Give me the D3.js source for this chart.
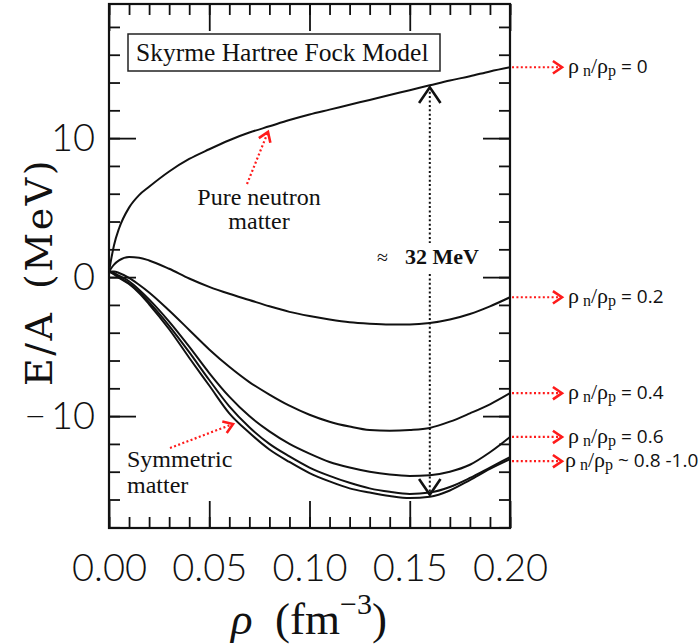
<!DOCTYPE html>
<html><head><meta charset="utf-8">
<script src="https://cdn.jsdelivr.net/npm/d3@7"></script>
<style>html,body{margin:0;padding:0;background:#fff;}svg{display:block;}</style>
</head><body>
<svg id="chart" width="700" height="644"></svg>
<script>
// ---- data ----
const rho = [0,0.0025,0.005,0.01,0.015,0.02,0.03,0.04,0.05,0.06,0.07,0.08,0.09,0.10,0.11,0.12,0.13,0.14,0.15,0.16,0.17,0.18,0.19,0.20];
const ratio00 = [0.4,2.3,3.5,5.0,5.9,6.5,7.6,8.5,9.2,9.85,10.4,10.85,11.3,11.7,12.05,12.4,12.75,13.1,13.45,13.8,14.15,14.45,14.8,15.1];
const ratio02 = [0.4,0.9,1.2,1.45,1.4,1.2,0.6,-0.1,-0.7,-1.2,-1.65,-2.1,-2.5,-2.8,-3.05,-3.25,-3.35,-3.4,-3.4,-3.3,-3.05,-2.65,-2.1,-1.45];
const ratio04 = [0.4,0.4,0.3,-0.05,-0.55,-1.1,-2.4,-3.8,-5.2,-6.45,-7.55,-8.45,-9.25,-9.9,-10.4,-10.75,-11.0,-11.05,-11.0,-10.85,-10.4,-9.8,-9.15,-8.35];
const ratio06 = [0.4,0.3,0.1,-0.3,-0.9,-1.6,-3.2,-5.0,-6.9,-8.6,-10.0,-11.1,-12.0,-12.7,-13.3,-13.7,-14.0,-14.2,-14.3,-14.25,-14.0,-13.5,-12.6,-11.5];
const ratio08 = [0.4,0.25,0.0,-0.45,-1.05,-1.8,-3.5,-5.4,-7.4,-9.3,-10.8,-12.0,-12.9,-13.7,-14.3,-14.8,-15.2,-15.45,-15.6,-15.5,-15.1,-14.45,-13.7,-12.95];
const ratio10 = [0.4,0.2,-0.05,-0.5,-1.15,-1.95,-3.75,-5.8,-7.8,-9.8,-11.2,-12.4,-13.3,-14.1,-14.7,-15.2,-15.5,-15.75,-15.9,-15.8,-15.35,-14.6,-13.8,-13.1];
const seriesList = [ratio00, ratio02, ratio04, ratio06, ratio08, ratio10];
const labelRatios = [" = 0", " = 0.2", " = 0.4", " = 0.6", " ~ 0.8 -1.0"];
const xTickLabels = [0, 0.05, 0.10, 0.15, 0.20];
const yTickLabels = [-10, 0, 10];
const symGap = 0.16; // rho where the 32 MeV arrow is drawn

// ---- layout ----
const svg = d3.select("#chart");
const x = d3.scaleLinear().domain([0, 0.2]).range([109, 510]);
const y = d3.scaleLinear().domain([-18.05, 19.65]).range([528, 4]);
const X0 = x.range()[0], X1 = x.range()[1], Y0 = y.range()[1], Y1 = y.range()[0];
const serif = "'Liberation Serif','Times New Roman',serif";
const tickFont = "Lato,'Liberation Sans',Arial,sans-serif";

function tickLayer(axisGen, tr){
  const g = svg.append("g").attr("transform", tr).call(axisGen);
  g.select(".domain").remove();
  g.selectAll(".tick line").attr("stroke","#111").attr("stroke-width",1.8);
  return g;
}
const xMinor = d3.range(0, 0.2001, 0.01);
const yMinor = d3.range(-18, 19, 2);
const MAJ = 27, MIN = 11;
tickLayer(d3.axisBottom(x).tickValues(xMinor).tickSize(-MIN).tickFormat(""), `translate(0,${Y1})`);
tickLayer(d3.axisTop(x).tickValues(xMinor).tickSize(-MIN).tickFormat(""), `translate(0,${Y0})`);
tickLayer(d3.axisBottom(x).tickValues(xTickLabels).tickSize(-MAJ).tickFormat(""), `translate(0,${Y1})`);
tickLayer(d3.axisTop(x).tickValues(xTickLabels).tickSize(-MAJ).tickFormat(""), `translate(0,${Y0})`);
tickLayer(d3.axisLeft(y).tickValues(yMinor).tickSize(-MIN).tickFormat(""), `translate(${X0},0)`);
tickLayer(d3.axisRight(y).tickValues(yMinor).tickSize(-MIN).tickFormat(""), `translate(${X1},0)`);
tickLayer(d3.axisLeft(y).tickValues(yTickLabels).tickSize(-MAJ).tickFormat(""), `translate(${X0},0)`);
tickLayer(d3.axisRight(y).tickValues(yTickLabels).tickSize(-MAJ).tickFormat(""), `translate(${X1},0)`);

const xl = svg.append("g").attr("transform", `translate(0,${Y1})`)
  .call(d3.axisBottom(x).tickValues(xTickLabels).tickSize(0).tickPadding(26).tickFormat(d3.format(".2f")));
xl.select(".domain").remove();
xl.selectAll("text").attr("font-family", tickFont).attr("font-weight",300).attr("font-size", 38).attr("fill","#111");
const yl = svg.append("g").attr("transform", `translate(${X0},0)`)
  .call(d3.axisLeft(y).tickValues(yTickLabels).tickSize(0).tickPadding(14).tickFormat(d => d < 0 ? "\u2212\u2009" + Math.abs(d) : d));
yl.select(".domain").remove();
yl.selectAll("text").attr("font-family", tickFont).attr("font-weight",300).attr("font-size", 38).attr("fill","#111");

svg.append("rect").attr("x", X0).attr("y", Y0).attr("width", X1 - X0).attr("height", Y1 - Y0)
  .attr("fill","none").attr("stroke","#111").attr("stroke-width",2.2);

const line = d3.line().x((d,i) => x(rho[i])).y(d => y(d)).curve(d3.curveMonotoneX);
svg.append("g").selectAll("path").data(seriesList).join("path")
  .attr("d", line).attr("fill","none").attr("stroke","#111").attr("stroke-width",2);

svg.append("text").attr("transform","translate(52,272) rotate(-90)").attr("text-anchor","middle")
  .attr("font-family","'DejaVu Serif',serif").attr("font-size",38).attr("letter-spacing",2.5).attr("fill","#111")
  .text("E/A\u2002(MeV)");
const xt = svg.append("text").attr("x", 309).attr("y", 634).attr("text-anchor","middle")
  .attr("font-family", serif).attr("font-size", 45).attr("fill","#111");
xt.append("tspan").attr("font-style","italic").text("\u03c1");
xt.append("tspan").text("\u2002(fm");
xt.append("tspan").attr("font-size",30).attr("dy",-20).text("\u22123");
xt.append("tspan").attr("dy",20).text(")");

svg.append("rect").attr("x",128).attr("y",34).attr("width",312).attr("height",37)
  .attr("fill","#fff").attr("stroke","#222").attr("stroke-width",1.5);
svg.append("text").attr("x",136).attr("y",61).attr("font-family",serif).attr("font-size",25.5)
  .attr("fill","#111").text("Skyrme Hartree Fock Model");

function chevron(tx, ty, angle, color, size){
  const a = angle, s = size || 9;
  const p1 = [tx - s*Math.cos(a - 0.6), ty - s*Math.sin(a - 0.6)];
  const p2 = [tx - s*Math.cos(a + 0.6), ty - s*Math.sin(a + 0.6)];
  svg.append("path").attr("d", `M${p1}L${tx},${ty}L${p2}`).attr("fill","none")
    .attr("stroke", color).attr("stroke-width", 2.6).attr("stroke-linejoin","miter");
}
function dottedArrow(x1,y1,x2,y2,color){
  svg.append("line").attr("x1",x1).attr("y1",y1).attr("x2",x2).attr("y2",y2)
    .attr("stroke",color).attr("stroke-width",2.2).attr("stroke-dasharray","2,2.4");
  chevron(x2,y2,Math.atan2(y2-y1,x2-x1),color,11);
}

const labelSeries = [ratio00, ratio02, ratio04, ratio06, ratio10];
labelSeries.forEach((s,i) => {
  const yy = y(s[s.length-1]) + (i===4 ? 2 : 0);
  dottedArrow(X1+2, yy, 562, yy, "#ff1a1a");
  const t = svg.append("text").attr("x", i===4 ? 565 : 568).attr("y", yy+6)
    .attr("font-family", serif).attr("font-size",22).attr("fill","#111");
  t.append("tspan").text("\u03c1");
  t.append("tspan").attr("font-size",16).attr("dy",3).text(" n");
  t.append("tspan").attr("dy",-3).text("/\u03c1");
  t.append("tspan").attr("font-size",16).attr("dy",3).text("p");
  t.append("tspan").attr("dy",-3).attr("font-family","'Open Sans','Liberation Sans',sans-serif").attr("font-size",19).text(labelRatios[i]);
});

svg.append("text").attr("x",259).attr("y",205).attr("text-anchor","middle").attr("font-family",serif)
  .attr("font-size",24).attr("fill","#111").text("Pure neutron");
svg.append("text").attr("x",259).attr("y",229).attr("text-anchor","middle").attr("font-family",serif)
  .attr("font-size",24).attr("fill","#111").text("matter");
dottedArrow(247,184,268,132,"#ff1a1a");

svg.append("text").attr("x",127).attr("y",467).attr("font-family",serif)
  .attr("font-size",24).attr("fill","#111").text("Symmetric");
svg.append("text").attr("x",127).attr("y",493).attr("font-family",serif)
  .attr("font-size",24).attr("fill","#111").text("matter");
dottedArrow(170,448,233,424,"#ff1a1a");

const gi = rho.indexOf(symGap);
const ax = x(symGap), aTop = y(ratio00[gi]) + 2, aBot = y(ratio10[gi]) - 2;
svg.append("line").attr("x1",ax).attr("x2",ax).attr("y1",aTop).attr("y2",243)
  .attr("stroke","#111").attr("stroke-width",2).attr("stroke-dasharray","2,2.4");
svg.append("line").attr("x1",ax).attr("x2",ax).attr("y1",274).attr("y2",aBot)
  .attr("stroke","#111").attr("stroke-width",2).attr("stroke-dasharray","2,2.4");
chevron(ax, aTop, -Math.PI/2, "#111", 19);
chevron(ax, aBot, Math.PI/2, "#111", 19);
svg.append("text").attr("x",377).attr("y",264).attr("font-family",serif).attr("font-size",20)
  .attr("fill","#111").text("\u2248");
svg.append("text").attr("x",405).attr("y",264).attr("font-family",serif).attr("font-size",22)
  .attr("font-weight","bold").attr("fill","#111").text("32 MeV");
</script>
</body></html>
